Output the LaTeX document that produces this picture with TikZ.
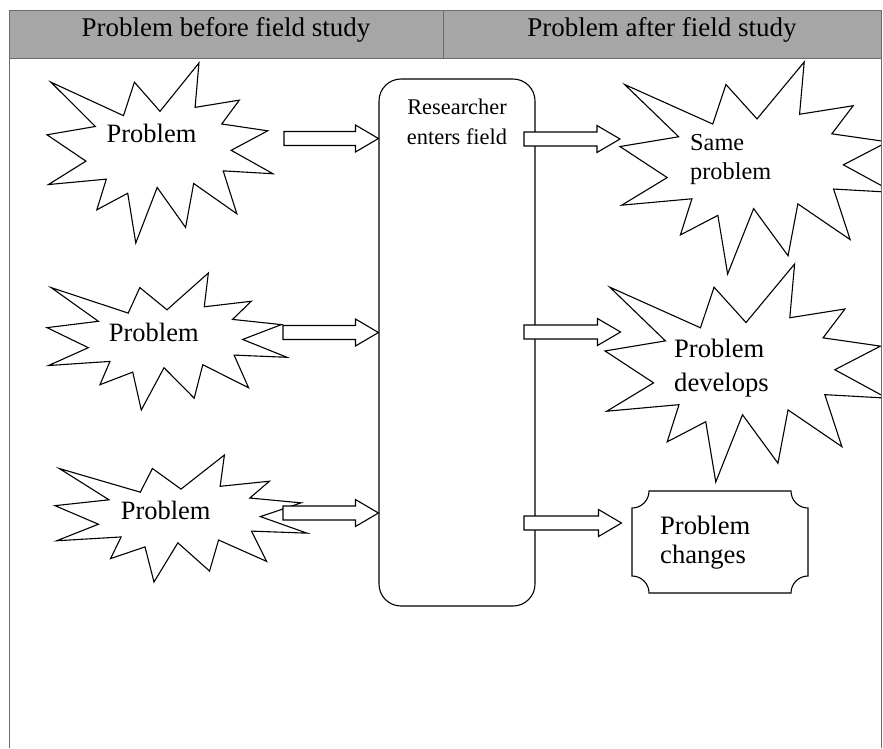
\documentclass[tikz,border=0pt]{standalone}
\usepackage{fontspec}
\setmainfont{Liberation Serif}
\usepackage{tikz}
\usetikzlibrary{calc,positioning}
\definecolor{headgray}{gray}{0.65}
\definecolor{framegray}{gray}{0.42}

\begin{document}
\begin{tikzpicture}[
  x=1pt, y=-1pt,
  outline/.style={draw=black, line width=1.1pt, fill=white},
  frame/.style={draw=framegray, line width=1pt},
  head/.style={font=\fontsize{27}{32}\selectfont, anchor=base, inner sep=0pt},
  txt/.style={font=\fontsize{26.5}{30}\selectfont, inner sep=0pt},
  fatarrow/.style={outline, to path={let \p1=(\tikztostart), \p2=(\tikztotarget) in
    (\x1,\y1+7pt) -- (\x2-23pt,\y1+7pt) -- (\x2-23pt,\y1+13.5pt) -- (\x2,\y1)
    -- (\x2-23pt,\y1-13.5pt) -- (\x2-23pt,\y1-7pt) -- (\x1,\y1-7pt) -- cycle}},
  burst/.pic={
    \draw[outline] (0.5,0.2685) -- (0.6723,0) -- (0.6553,0.2465) -- (0.8509,0.2063)
      -- (0.7732,0.3387) -- (0.9767,0.3767) -- (0.8151,0.4850) -- (1,0.6153)
      -- (0.7795,0.5992) -- (0.8400,0.8377) -- (0.6491,0.6693) -- (0.6133,0.9138)
      -- (0.4876,0.6914) -- (0.3928,1) -- (0.3572,0.7235) -- (0.2205,0.8156)
      -- (0.2624,0.6452) -- (0.0063,0.6753) -- (0.1723,0.5451) -- (0,0.3988)
      -- (0.2142,0.3526) -- (0.0171,0.1063) -- (0.3385,0.2926) -- (0.3867,0.1063)
      -- cycle;
  }
]
  \useasboundingbox (0,0) rectangle (883,748);

  % Header row
  \fill[headgray] (9,10) rectangle (881,58);
  \node[head] (hbefore) at (226,36) {Problem before field study};
  \node[head] (hafter) at (662,36) {Problem after field study};

  % Problems before field study
  \pic[xscale=226, yscale=180] at (47,63) {burst};
  \node[txt, anchor=base] (p1) at (151.5,142) {Problem};

  \pic[xscale=240, yscale=137] at (47,273) {burst};
  \node[txt, anchor=base] (p2) at (153.8,341) {Problem};

  \pic[xscale=252, yscale=127] at (55,455) {burst};
  \node[txt, anchor=base] (p3) at (165.7,519.3) {Problem};

  % Researcher in the field
  \node[outline, rounded corners=22pt, minimum width=156pt, minimum height=527pt] (res) at (457,342.5) {};
  \node[txt, font=\fontsize{22.4}{30}\selectfont, align=center, below=20.7pt of res.north] (resl) {Researcher\\enters field};

  % Arrows into the field
  \coordinate (a1) at (284,138.5);
  \coordinate (a2) at (283,332.5);
  \coordinate (a3) at (283,513);
  \draw[fatarrow] (a1) to (a1 -| res.west);
  \draw[fatarrow] (a2) to (a2 -| res.west);
  \draw[fatarrow] (a3) to (a3 -| res.west);

  % Problems after field study
  \begin{scope}
    \clip (9,58) rectangle (881,748);
    \pic[xscale=274, yscale=212] at (620,62) {burst};
    \pic[xscale=282, yscale=218] at (605,264) {burst};
  \end{scope}
  \node[txt, font=\fontsize{24.3}{28.3}\selectfont, align=left, anchor=north west] (same) at (690,134.6) {Same\\problem};
  \node[txt, font=\fontsize{26.6}{34}\selectfont, align=left, anchor=north west] (dev) at (674,338.5) {Problem\\develops};

  \draw[outline] (649,491) -- (791,491) arc[start angle=180, end angle=270, radius=17pt]
    -- (808,576) arc[start angle=90, end angle=180, radius=17pt]
    -- (649,593) arc[start angle=0, end angle=90, radius=17pt]
    -- (632,508) arc[start angle=-90, end angle=0, radius=17pt] -- cycle;
  \node[txt, font=\fontsize{26.6}{29.3}\selectfont, align=left, anchor=north west] (chg) at (660,515.8) {Problem\\changes};

  % Arrows out of the field
  \coordinate (b1) at (524,139);
  \coordinate (b2) at (524,332);
  \coordinate (b3) at (524,523);
  \coordinate (o1) at (620,139);
  \coordinate (o2) at (620.5,332);
  \coordinate (o3) at (621.5,523);
  \draw[fatarrow] (b1) to (o1);
  \draw[fatarrow] (b2) to (o2);
  \draw[fatarrow] (b3) to (o3);

  % Table frame
  \draw[frame] (9,748) -- (9,10) -- (881,10) -- (881,748);
  \draw[frame] (9,58) -- (881,58) (443,10) -- (443,58);
\end{tikzpicture}
\end{document}
